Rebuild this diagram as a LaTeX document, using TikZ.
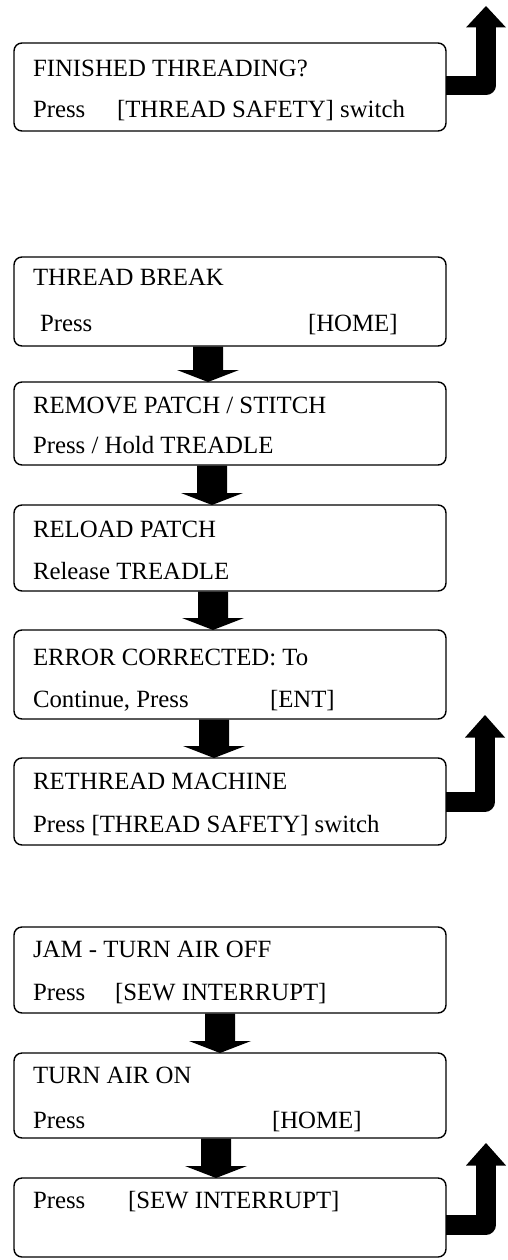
\documentclass[tikz,border=0pt]{standalone}
\usepackage{fontspec}
\setmainfont{Liberation Serif}
\usetikzlibrary{calc}
\tikzset{
  panel/.style={draw=black, line width=1.4pt, rounded corners=8pt, fill=white,
    minimum width=432pt, inner sep=0pt, outer sep=0pt},
  txt/.style={anchor=base west, inner sep=0pt, outer sep=0pt,
    font=\fontsize{24.8}{29}\selectfont},
  blockfill/.style={fill=black, draw=none},
  bentline/.style={draw=black, line width=19.5pt, line join=round, line cap=butt}
}
\newcommand{\panelat}[3]{%
  \node[panel, minimum height={(#3)-(#2)}] (#1) at (230,{((#2)+(#3))/2}) {};}
% block arrow down from box #1 to box #2 at x = #3
\newcommand{\blockdown}[3]{%
  \coordinate (#1#2s) at (#3,0 |- #1.south);
  \coordinate (#1#2t) at (#3,0 |- #2.north);
  \fill[blockfill] ($(#1#2s)+(-15,0.7)$) -- ($(#1#2s)+(15,0.7)$)
     -- ($(#1#2t)+(15,-12)$) -- ($(#1#2t)+(31,-12)$) -- (#1#2t)
     -- ($(#1#2t)+(-31,-12)$) -- ($(#1#2t)+(-15,-12)$) -- cycle;}
% bent arrow from box #1, bar at y=#2, shaft x=#3, head base y=#4, tip y=#5, name #6
\newcommand{\bentup}[6]{%
  \coordinate (#6) at (#3,#5);
  \draw[bentline] (#1.east |- 0,#2) -- (#3,#2) -- (#6 |- 0,#4);
  \fill[blockfill] ($(#6 |- 0,#4)+(-20,0.5)$) -- (#6) -- ($(#6 |- 0,#4)+(20,0.5)$) -- cycle;}
\begin{document}
\begin{tikzpicture}[x=1pt, y=-1pt]
\useasboundingbox (0,0) rectangle (508,1260);

% boxes
\panelat{b1}{43}{131}
\panelat{b2}{257}{346}
\panelat{b3}{382}{465}
\panelat{b4}{505}{591}
\panelat{b5}{630}{719}
\panelat{b6}{758}{845}
\panelat{b7}{927}{1013}
\panelat{b8}{1053}{1138}
\panelat{b9}{1178}{1257}

% bent arrows
\bentup{b1}{85.5}{486}{27}{6}{up1}
\bentup{b6}{802}{485}{737}{715}{up2}
\bentup{b9}{1225}{486}{1165}{1143}{up3}

% down block arrows
\blockdown{b2}{b3}{208}
\blockdown{b3}{b4}{212}
\blockdown{b4}{b5}{213}
\blockdown{b5}{b6}{214}
\blockdown{b7}{b8}{220}
\blockdown{b8}{b9}{216}

% texts
\node[txt] (t1a) at (33,77) {FINISHED THREADING?};
\node[txt] (t1b) at (33,118) {Press};
\node[txt] (t1c) at (117,118) {[THREAD SAFETY] switch};

\node[txt] (t2a) at (33,285) {THREAD BREAK};
\node[txt] (t2b) at (40,331) {Press};
\node[txt] (t2c) at (308,331) {[HOME]};

\node[txt] (t3a) at (33,413) {REMOVE PATCH / STITCH};
\node[txt] (t3b) at (33,453) {Press / Hold TREADLE};

\node[txt] (t4a) at (33,537) {RELOAD PATCH};
\node[txt] (t4b) at (33,579) {Release TREADLE};

\node[txt] (t5a) at (33,665) {ERROR CORRECTED: To};
\node[txt] (t5b) at (33,707) {Continue, Press};
\node[txt] (t5c) at (270,707) {[ENT]};

\node[txt] (t6a) at (33,789) {RETHREAD MACHINE};
\node[txt] (t6b) at (33,832) {Press [THREAD SAFETY] switch};

\node[txt] (t7a) at (33,957) {JAM - TURN AIR OFF};
\node[txt] (t7b) at (33,1000) {Press};
\node[txt] (t7c) at (115,1000) {[SEW INTERRUPT]};

\node[txt] (t8a) at (33,1083) {TURN AIR ON};
\node[txt] (t8b) at (33,1128) {Press};
\node[txt] (t8c) at (272,1128) {[HOME]};

\node[txt] (t9a) at (33,1208) {Press};
\node[txt] (t9b) at (128,1208) {[SEW INTERRUPT]};
\end{tikzpicture}
\end{document}
